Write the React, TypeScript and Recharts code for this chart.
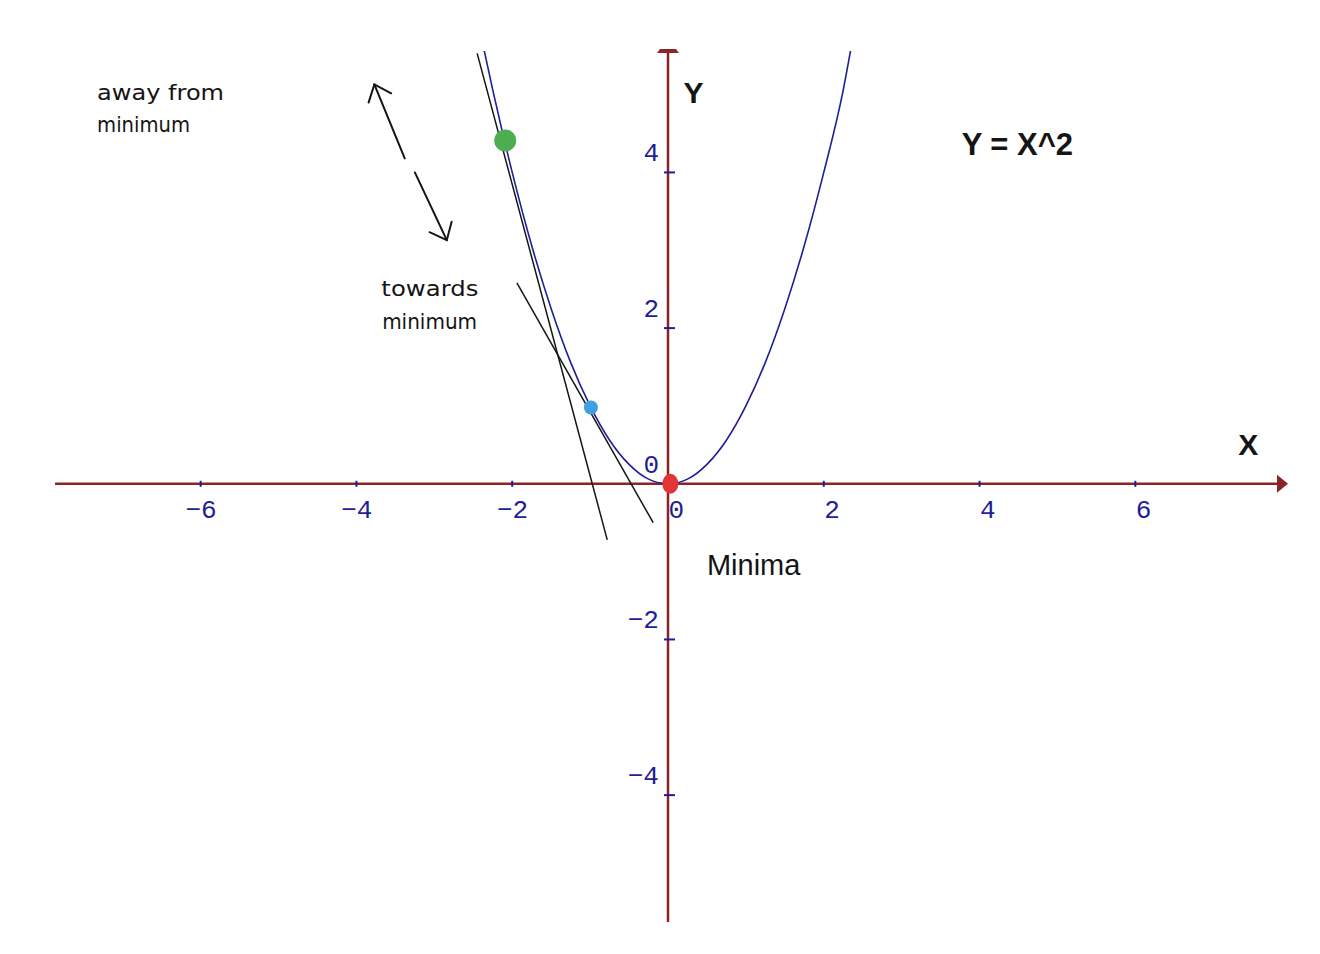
import React from "react";
import { ComposedChart, XAxis, YAxis, Line, ReferenceLine, ReferenceDot } from "recharts";

// y = x^2
const CURVE_X = [-2.38, -2.25, -2, -1.75, -1.5, -1.25, -1, -0.75, -0.5, -0.25, 0, 0.25, 0.5, 0.75, 1, 1.25, 1.5, 1.75, 2, 2.25, 2.35];
const CURVE_Y = [5.66, 5.06, 4, 3.06, 2.25, 1.56, 1, 0.56, 0.25, 0.06, 0, 0.06, 0.25, 0.56, 1, 1.56, 2.25, 3.06, 4, 5.06, 5.6];

// hand drawn tangents (black)
const TANGENT_GREEN = [
  { x: -2.45, y: 5.53 },
  { x: -0.78, y: -0.72 },
];
const TANGENT_BLUE = [
  { x: -1.94, y: 2.58 },
  { x: -0.19, y: -0.5 },
];

// double arrow, start -> tip
const ARROW_AWAY = [
  { x: -3.38, y: 4.18 },
  { x: -3.77, y: 5.13 },
];
const ARROW_TOWARDS = [
  { x: -3.25, y: 4.0 },
  { x: -2.84, y: 3.13 },
];

const X_LABELS = [-6, -4, -2, 0, 2, 4, 6];
const Y_LABELS = [4, 2, 0, -2, -4];

const POINT_X = [-2.09, -0.99, 0.03];
const POINT_Y = [4.41, 0.98, 0];

const NOTE_TEXT = ["away from", "minimum", "towards", "minimum", "Minima"];
const NOTE_X = [-7.33, -7.33, -3.68, -3.67, 0.5];
const NOTE_Y = [4.93, 4.52, 2.41, 1.99, -1.17];

const NAVY = "#1e1e96";
const AXIS = "#8b2424";
const INK = "#151515";
const POINT_STYLE = [
  { fill: "#4cae50", rx: 11, ry: 11 },
  { fill: "#3f9fe0", rx: 7, ry: 7 },
  { fill: "#e23535", rx: 8, ry: 10 },
];
const NOTE_LEN = [127, 93, 97, 95, 0];

const curve = CURVE_X.map((x, i) => ({ x, y: CURVE_Y[i] }));

const fmt = (v: number) => (v < 0 ? "\u2212" + Math.abs(v) : String(v));

function XAxisShape(p: any) {
  const left = Math.min(p.x1, p.x2);
  const right = Math.max(p.x1, p.x2);
  const y = p.y1;
  return (
    <g>
      <line x1={left} y1={y} x2={right - 6} y2={y} stroke={AXIS} strokeWidth={2.5} />
      <path d={`M${right},${y} L${right - 11},${y - 9} L${right - 11},${y + 9} Z`} fill={AXIS} />
    </g>
  );
}

function YAxisShape(p: any) {
  const top = Math.min(p.y1, p.y2);
  const bottom = Math.max(p.y1, p.y2);
  const x = p.x1;
  return (
    <g>
      <line x1={x} y1={top} x2={x} y2={bottom} stroke={AXIS} strokeWidth={2.5} />
      <path d={`M${x - 11},${top + 2} L${x - 8},${top - 2} L${x + 8},${top - 2} L${x + 11},${top + 2} Z`} fill={AXIS} />
    </g>
  );
}

function ArrowShape(p: any) {
  const { x1, y1, x2, y2 } = p;
  const a = Math.atan2(y1 - y2, x1 - x2);
  const len = 19;
  const spread = (40 * Math.PI) / 180;
  const h1 = { x: x2 + len * Math.cos(a - spread), y: y2 + len * Math.sin(a - spread) };
  const h2 = { x: x2 + len * Math.cos(a + spread), y: y2 + len * Math.sin(a + spread) };
  return (
    <g stroke={INK} strokeWidth={2} fill="none" strokeLinecap="round">
      <line x1={x1} y1={y1} x2={x2} y2={y2} />
      <polyline points={`${h1.x},${h1.y} ${x2},${y2} ${h2.x},${h2.y}`} />
    </g>
  );
}

const tickFont = { fontFamily: "'Liberation Mono', monospace", fontSize: 26, fill: NAVY };

export default function App() {
  return (
    <div style={{ width: 1300, height: 940, background: "#fff" }}>
      <ComposedChart width={1300} height={940} margin={{ top: 43, right: 20, bottom: 26, left: 47 }}>
        <XAxis type="number" dataKey="x" domain={[-7.87, 7.96]} allowDataOverflow hide />
        <YAxis type="number" domain={[-5.63, 5.56]} allowDataOverflow hide />

        <ReferenceLine y={0} shape={XAxisShape} />
        <ReferenceLine x={0} shape={YAxisShape} />

        <Line data={curve} dataKey="y" type="monotone" stroke={NAVY} strokeWidth={1.6} dot={false} isAnimationActive={false} />
        <Line data={TANGENT_GREEN} dataKey="y" type="linear" stroke={INK} strokeWidth={1.5} dot={false} isAnimationActive={false} />
        <Line data={TANGENT_BLUE} dataKey="y" type="linear" stroke={INK} strokeWidth={1.5} dot={false} isAnimationActive={false} />

        <ReferenceLine segment={ARROW_AWAY} shape={ArrowShape} />
        <ReferenceLine segment={ARROW_TOWARDS} shape={ArrowShape} />

        {X_LABELS.map((t) => (
          <ReferenceDot
            key={"xt" + t}
            x={t}
            y={0}
            r={0}
            shape={(p: any) => (
              <g>
                {t !== 0 && <line x1={p.cx} y1={p.cy - 3} x2={p.cx} y2={p.cy + 3} stroke={NAVY} strokeWidth={2} />}
                <text x={p.cx + 16} y={p.cy + 34} textAnchor="end" {...tickFont}>
                  {fmt(t)}
                </text>
              </g>
            )}
          />
        ))}
        {Y_LABELS.map((t) => (
          <ReferenceDot
            key={"yt" + t}
            x={0}
            y={t}
            r={0}
            shape={(p: any) => (
              <g>
                {t !== 0 && <line x1={p.cx - 4} y1={p.cy} x2={p.cx + 7} y2={p.cy} stroke={NAVY} strokeWidth={2} />}
                <text x={p.cx - 9} y={p.cy - 11} textAnchor="end" {...tickFont}>
                  {fmt(t)}
                </text>
              </g>
            )}
          />
        ))}

        {NOTE_TEXT.map((s, i) => (
          <ReferenceDot
            key={"n" + i}
            x={NOTE_X[i]}
            y={NOTE_Y[i]}
            r={0}
            shape={(p: any) =>
              NOTE_LEN[i] ? (
                <text x={p.cx} y={p.cy} fill={INK} fontSize={21} fontFamily="'DejaVu Sans', sans-serif" textLength={NOTE_LEN[i]} lengthAdjust="spacingAndGlyphs">
                  {s}
                </text>
              ) : (
                <text x={p.cx} y={p.cy} fill={INK} fontSize={29} fontFamily="'Liberation Sans', Arial, sans-serif">
                  {s}
                </text>
              )
            }
          />
        ))}

        <ReferenceDot
          x={3.77}
          y={4.22}
          r={0}
          shape={(p: any) => (
            <text x={p.cx} y={p.cy} fill={INK} fontSize={31} fontWeight="bold" fontFamily="'Liberation Sans', Arial, sans-serif">
              Y = X^2
            </text>
          )}
        />
        <ReferenceDot
          x={0.2}
          y={4.89}
          r={0}
          shape={(p: any) => (
            <text x={p.cx} y={p.cy} fill={INK} fontSize={30} fontWeight="bold" fontFamily="'Liberation Sans', Arial, sans-serif">
              Y
            </text>
          )}
        />
        <ReferenceDot
          x={7.32}
          y={0.37}
          r={0}
          shape={(p: any) => (
            <text x={p.cx} y={p.cy} fill={INK} fontSize={30} fontWeight="bold" fontFamily="'Liberation Sans', Arial, sans-serif">
              X
            </text>
          )}
        />

        {POINT_X.map((x, i) => (
          <ReferenceDot
            key={"pt" + i}
            x={x}
            y={POINT_Y[i]}
            r={POINT_STYLE[i].rx}
            shape={(p: any) => <ellipse cx={p.cx} cy={p.cy} rx={POINT_STYLE[i].rx} ry={POINT_STYLE[i].ry} fill={POINT_STYLE[i].fill} />}
          />
        ))}
      </ComposedChart>
    </div>
  );
}
